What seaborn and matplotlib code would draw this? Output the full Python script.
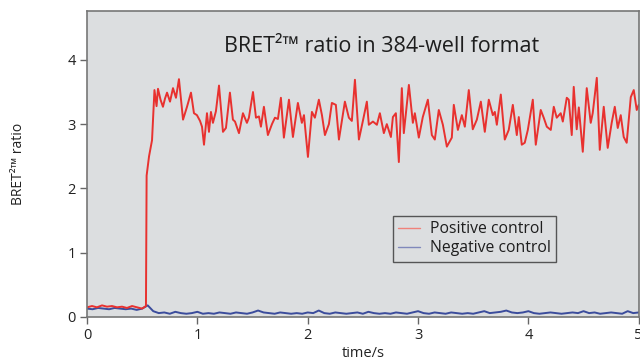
import numpy as np
import pandas as pd
import matplotlib
matplotlib.use("Agg")
import matplotlib.pyplot as plt
import seaborn as sns
from matplotlib.lines import Line2D

# ---- data ----
pos_time = [0.000, 0.045, 0.090, 0.136, 0.181, 0.226, 0.272, 0.317, 0.362, 0.408, 0.453, 0.498, 0.525,
            0.534, 0.540, 0.562, 0.589, 0.611, 0.630, 0.643, 0.666, 0.688, 0.707, 0.725, 0.752, 0.779,
            0.806, 0.833, 0.870, 0.906, 0.942, 0.969, 0.996, 1.024, 1.042, 1.060, 1.087, 1.105, 1.123,
            1.141, 1.168, 1.196, 1.232, 1.259, 1.295, 1.322, 1.341, 1.377, 1.413, 1.449, 1.467, 1.504,
            1.531, 1.558, 1.576, 1.603, 1.639, 1.676, 1.703, 1.730, 1.757, 1.784, 1.830, 1.866, 1.911,
            1.947, 1.966, 2.002, 2.038, 2.065, 2.101, 2.129, 2.156, 2.192, 2.219, 2.255, 2.283, 2.337,
            2.373, 2.400, 2.428, 2.464, 2.500, 2.536, 2.554, 2.591, 2.627, 2.654, 2.690, 2.717, 2.754,
            2.772, 2.799, 2.826, 2.853, 2.871, 2.917, 2.953, 2.971, 3.007, 3.043, 3.089, 3.125, 3.152,
            3.188, 3.225, 3.261, 3.306, 3.324, 3.361, 3.397, 3.424, 3.460, 3.496, 3.533, 3.569, 3.605,
            3.641, 3.678, 3.696, 3.714, 3.750, 3.786, 3.822, 3.859, 3.895, 3.913, 3.940, 3.967, 3.995,
            4.040, 4.067, 4.112, 4.139, 4.167, 4.203, 4.230, 4.257, 4.293, 4.312, 4.348, 4.366, 4.393,
            4.411, 4.438, 4.457, 4.493, 4.529, 4.565, 4.583, 4.620, 4.647, 4.683, 4.719, 4.755, 4.783,
            4.810, 4.837, 4.864, 4.891, 4.928, 4.955, 4.982, 5.000]
pos_ratio = [0.15, 0.17, 0.15, 0.18, 0.16, 0.17, 0.15, 0.16, 0.14, 0.17, 0.15, 0.13, 0.16,
             0.17, 2.20, 2.50, 2.75, 3.53, 3.28, 3.55, 3.38, 3.27, 3.40, 3.49, 3.35, 3.56,
             3.41, 3.70, 3.07, 3.27, 3.49, 3.17, 3.14, 3.05, 2.96, 2.68, 3.17, 2.88, 3.19,
             3.02, 3.20, 3.60, 2.88, 2.94, 3.49, 3.07, 3.04, 2.86, 3.17, 3.02, 3.10, 3.50,
             3.10, 3.12, 2.96, 3.27, 2.83, 3.00, 3.10, 3.08, 3.41, 2.79, 3.38, 2.80, 3.33,
             3.02, 3.14, 2.49, 3.19, 3.10, 3.38, 3.14, 2.83, 3.00, 3.33, 3.30, 2.76, 3.35,
             3.10, 3.05, 3.69, 2.76, 3.05, 3.35, 2.99, 3.04, 2.99, 3.17, 2.86, 3.00, 2.80,
             3.11, 3.17, 2.41, 3.56, 2.86, 3.61, 3.02, 3.17, 2.79, 3.11, 3.38, 2.83, 2.76,
             3.22, 2.99, 2.65, 2.79, 3.30, 2.91, 3.14, 2.96, 3.53, 2.92, 3.07, 3.35, 2.88,
             3.38, 3.14, 3.19, 2.99, 3.46, 2.76, 2.91, 3.30, 2.83, 3.11, 2.68, 2.71, 2.91,
             3.38, 2.68, 3.22, 3.10, 2.96, 2.91, 3.27, 3.10, 3.17, 3.04, 3.41, 3.38, 2.83,
             3.58, 2.92, 3.26, 2.57, 3.56, 3.02, 3.17, 3.72, 2.60, 3.27, 2.63, 3.02, 3.27,
             2.94, 3.14, 2.80, 2.71, 3.42, 3.53, 3.22, 3.30]

neg_time = np.round(np.linspace(0.0, 5.0, 101), 2)
neg_ratio = [0.13, 0.12, 0.14, 0.13, 0.12, 0.14, 0.13, 0.12, 0.13, 0.11, 0.13,
             0.18, 0.09, 0.06, 0.07, 0.05, 0.08, 0.06, 0.05, 0.06, 0.08,
             0.05, 0.06, 0.05, 0.07, 0.06, 0.05, 0.07, 0.06, 0.05, 0.07,
             0.10, 0.07, 0.06, 0.05, 0.07, 0.06, 0.05, 0.06, 0.05, 0.07,
             0.06, 0.10, 0.06, 0.05, 0.07, 0.06, 0.05, 0.06, 0.07, 0.05,
             0.08, 0.06, 0.05, 0.06, 0.05, 0.07, 0.06, 0.05, 0.07, 0.09,
             0.06, 0.05, 0.07, 0.06, 0.05, 0.07, 0.06, 0.05, 0.06, 0.05,
             0.07, 0.09, 0.06, 0.07, 0.08, 0.10, 0.07, 0.06, 0.07, 0.09,
             0.06, 0.05, 0.06, 0.07, 0.06, 0.05, 0.06, 0.07, 0.06, 0.09,
             0.06, 0.07, 0.05, 0.06, 0.07, 0.06, 0.05, 0.09, 0.06, 0.07]

series_names = ["Positive control", "Negative control"]
x_ticks = [0, 1, 2, 3, 4, 5]
y_ticks = [0, 1, 2, 3, 4]
title_text = "BRET²™ ratio in 384-well format"
y_label = "BRET²™ ratio"
x_label = "time/s"

# ---- build long table ----
df = pd.concat([
    pd.DataFrame({"time": pos_time, "ratio": pos_ratio, "control": series_names[0]}),
    pd.DataFrame({"time": neg_time, "ratio": neg_ratio, "control": series_names[1]}),
], ignore_index=True)

sns.set_style("ticks")
plt.rcParams["font.family"] = ["Open Sans", "DejaVu Sans"]

fig = plt.figure(figsize=(6.4, 3.61), dpi=100)
ax = fig.add_axes([0.136, 0.122, 0.862, 0.8475])
ax.set_facecolor("#dcdee0")

palette = {series_names[0]: "#e8312f", series_names[1]: "#3b4c9c"}
sns.lineplot(data=df, x="time", y="ratio", hue="control", hue_order=series_names[::-1],
             palette=palette, estimator=None, sort=False, linewidth=1.4, ax=ax, legend=False)

ax.set_xlim(0, 5)
ax.set_ylim(0, 4.76)
ax.set_xticks(x_ticks)
ax.set_yticks(y_ticks)
ax.tick_params(axis="both", direction="out", length=5, width=1, color="#666666",
               labelsize=10.5, labelcolor="#222222", pad=3)
for side in ["left", "bottom", "top", "right"]:
    ax.spines[side].set_color("#777777")
    ax.spines[side].set_linewidth(1.2)
    ax.spines[side].set_visible(True)

ax.set_xlabel(x_label, fontsize=10.5, color="#222222", labelpad=2)
ax.set_ylabel(y_label, fontsize=10, color="#222222", labelpad=30)
ax.text(0.534, 0.885, title_text, transform=ax.transAxes, ha="center", va="center",
        fontsize=15.5, color="#1e1e1e")

handles = [Line2D([], [], color="#f0827a", lw=1.0), Line2D([], [], color="#8088bb", lw=1.0)]
leg = ax.legend(handles, series_names, loc="lower left", bbox_to_anchor=(0.554, 0.18),
                borderaxespad=0, frameon=True, fancybox=False, fontsize=11.3,
                handlelength=1.4, handletextpad=0.6, borderpad=0.35, labelspacing=0.2)
leg.get_frame().set_edgecolor("#333333")
leg.get_frame().set_facecolor("#dcdee0")
leg.get_frame().set_linewidth(1.0)
for t in leg.get_texts():
    t.set_color("#1e1e1e")

fig.savefig("out.png", dpi=100)
